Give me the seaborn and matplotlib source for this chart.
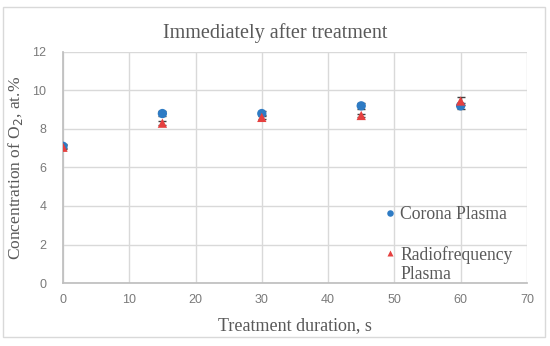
import matplotlib
matplotlib.use("Agg")
import matplotlib.pyplot as plt
import seaborn as sns
import pandas as pd
from matplotlib.patches import Rectangle

durations = [0, 15, 30, 45, 60]
corona = [7.1, 8.8, 8.8, 9.2, 9.2]
corona_err = [0.1, 0.15, 0.15, 0.15, 0.15]
rf = [7.05, 8.3, 8.6, 8.7, 9.45]
rf_err = [0.1, 0.12, 0.1, 0.1, 0.2]
series_names = ["Corona Plasma", "Radiofrequency Plasma"]
title = "Immediately after treatment"
xlabel = "Treatment duration, s"
ylabel = "Concentration of O$_2$, at.%"

df = pd.DataFrame({
    "duration": durations * 2,
    "value": corona + rf,
    "err": corona_err + rf_err,
    "series": [series_names[0]] * 5 + [series_names[1]] * 5,
})

sns.set_theme(style="whitegrid")
serif = ["Liberation Serif", "DejaVu Serif"]
sans = ["Liberation Sans", "DejaVu Sans"]

fig = plt.figure(figsize=(5.5, 3.46), dpi=100)
fig.patches.append(Rectangle((0.006, 0.026), 0.985, 0.953, transform=fig.transFigure,
                             fill=False, edgecolor="#d9d9d9", linewidth=1.0))
ax = fig.add_axes([0.1145, 0.182, 0.8435, 0.668])

colors = {series_names[0]: "#2E7BC4", series_names[1]: "#E5403F"}
markers = {series_names[0]: "o", series_names[1]: "^"}

for name in series_names:
    sub = df[df["series"] == name]
    ax.errorbar(sub["duration"], sub["value"], yerr=sub["err"], fmt="none",
                ecolor="#404040", elinewidth=1.0, capsize=3, capthick=1.0, zorder=2)

sns.scatterplot(data=df, x="duration", y="value", hue="series", style="series",
                palette=colors, markers=markers, s=45, edgecolor="none",
                ax=ax, zorder=3, legend=True)

ax.set_xlim(0, 70)
ax.set_ylim(0, 12)
ax.set_xticks(range(0, 71, 10))
ax.set_yticks(range(0, 13, 2))
ax.grid(True, color="#d9d9d9", linewidth=1.0)
for side in ["top", "right"]:
    ax.spines[side].set_visible(False)
ax.spines["left"].set_color("#bfbfbf")
ax.spines["bottom"].set_color("#bfbfbf")
ax.tick_params(axis="x", length=0, labelsize=9, labelcolor="#7a7a7a", pad=8)
ax.tick_params(axis="y", length=0, labelsize=9, labelcolor="#7a7a7a", pad=12)
for lab in ax.get_xticklabels() + ax.get_yticklabels():
    lab.set_family(sans)

ax.set_xlabel(xlabel, family=serif, fontsize=13, color="#595959", labelpad=8)
ax.set_ylabel(ylabel, family=serif, fontsize=12.5, color="#595959", labelpad=5)
fig.text(0.5, 0.905, title, family=serif, fontsize=14.5, color="#595959",
         ha="center", va="center")

# legend: second label wraps onto a second line with the marker beside the first line
handles, labels = ax.get_legend_handles_labels()
first_words = [lab.rsplit(" ", 1)[0] if lab == series_names[1] else lab for lab in labels]
leg = ax.legend(handles, first_words, loc="upper left", bbox_to_anchor=(0.67, 0.365),
                frameon=False, prop={"family": serif, "size": 12.7},
                labelspacing=1.3, handletextpad=0.1, markerscale=0.7,
                handlelength=1.0, borderaxespad=0)
for t in leg.get_texts():
    t.set_color("#595959")

fig.canvas.draw()
rf_text = leg.get_texts()[1]
bb = rf_text.get_window_extent().transformed(ax.transAxes.inverted())
line_h = 20 / (ax.get_window_extent().height)
ax.text(bb.x0, bb.y0 - line_h * 0.55, series_names[1].rsplit(" ", 1)[1],
        transform=ax.transAxes, family=serif, fontsize=12.7, color="#595959",
        ha="left", va="center")

fig.savefig("out.png", dpi=100)
